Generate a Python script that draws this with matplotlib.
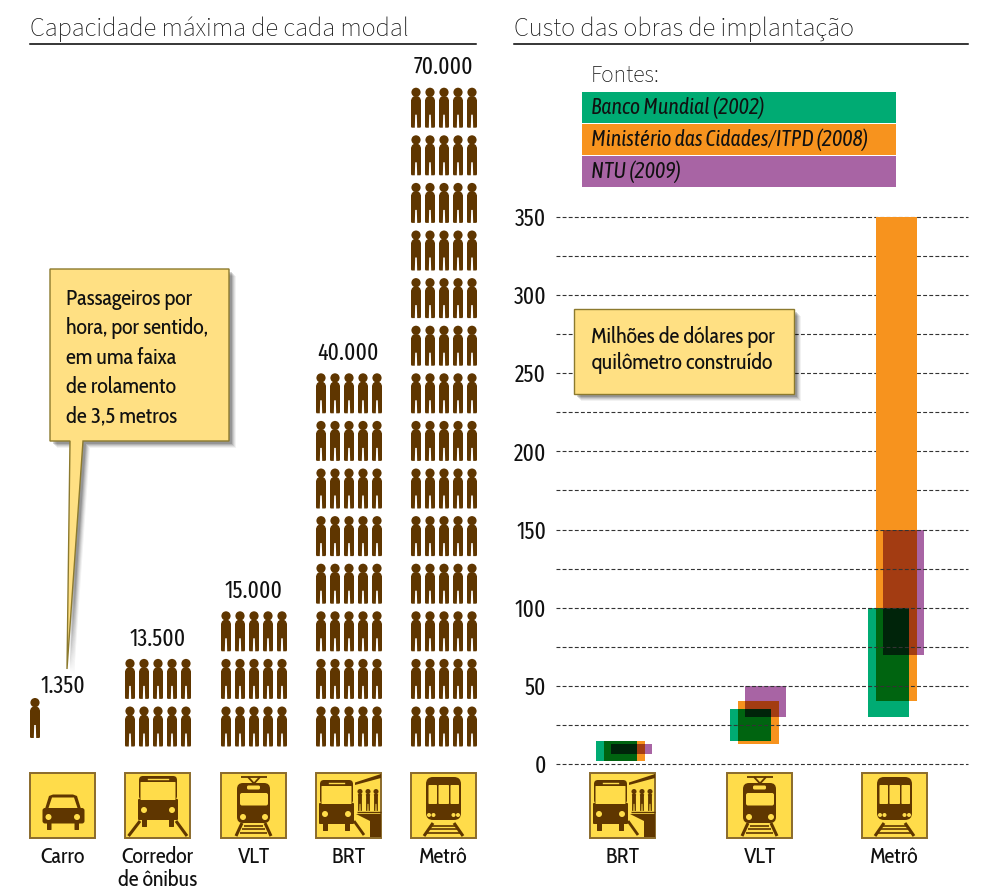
import matplotlib
matplotlib.use("Agg")
import matplotlib.pyplot as plt
from matplotlib.patches import Circle, FancyBboxPatch, Polygon, Rectangle

# capacidade
modal_names = ["Carro", "Corredor\nde ônibus", "VLT", "BRT", "Metrô"]
modal_values = ["1.350", "13.500", "15.000", "40.000", "70.000"]
modal_rows = [1, 2, 3, 8, 14]
modal_cols = [1, 5, 5, 5, 5]
modal_icons = ["car", "bus", "tram", "brt", "metro"]

# custo, milhoes de dolares por km (min, max)
cost_names = ["BRT", "VLT", "Metrô"]
cost_icons = ["brt", "tram", "metro"]
green_low = [2, 15, 30]
green_high = [15, 35, 100]
orange_low = [2, 13, 40]
orange_high = [15, 40, 350]
purple_low = [6.5, 30, 70]
purple_high = [13, 50, 150]
source_names = ["Banco Mundial (2002)", "Ministério das Cidades/ITPD (2008)", "NTU (2009)"]
y_ticks = [0, 50, 100, 150, 200, 250, 300, 350]
y_minor = [25, 75, 125, 175, 225, 275, 325]

GREEN = "#00AB73"
ORANGE = "#F7931E"
PURPLE = "#A864A4"
GREEN_ORANGE = "#006410"
ORANGE_PURPLE = "#A33C12"
ALL_THREE = "#00240A"
BROWN = "#5F3600"
YELLOW = "#FFDC4A"
NOTE = "#FFE083"
NARROW = ["Cabin Condensed", "Fira Sans Condensed", "Liberation Sans", "DejaVu Sans"]
NARROW_IT = ["Asap Condensed", "Fira Sans Condensed", "Liberation Sans", "DejaVu Sans"]
DIGITS = ["Fira Sans Extra Condensed", "Cabin Condensed", "Liberation Sans", "DejaVu Sans"]
LIGHT = ["Source Sans 3", "Source Sans Pro", "Open Sans", "DejaVu Sans"]

plt.rcParams["font.family"] = NARROW

fig = plt.figure(figsize=(9.82, 8.88), dpi=100)

# grafico de custo, eixo x em pixels da figura
ax = fig.add_axes([556 / 982, (888 - 764) / 888, 412 / 982, 547 / 888])
ax.set_xlim(556, 968)
ax.set_ylim(0, 350)
for s in ax.spines.values():
    s.set_visible(False)
ax.set_xticks([])
ax.set_yticks(y_ticks)
ax.set_yticks(y_minor, minor=True)
ax.tick_params(axis="y", which="both", length=0, pad=7, labelsize=17)
for lab in ax.get_yticklabels():
    lab.set_family(DIGITS)
    lab.set_color("#111111")
ax.grid(axis="y", which="both", color="#333333", lw=0.8, ls=(0, (3.5, 2)), clip_on=False)
ax.set_axisbelow(False)

group_x = [624.5, 758.5, 896.5]
bar_w = 41
green_dx = -8
purple_dx = 7


def overlap(x_list, low_list, high_list, color, z):
    left = max(x - bar_w / 2 for x in x_list)
    right = min(x + bar_w / 2 for x in x_list)
    low = max(low_list)
    high = min(high_list)
    if right > left and high > low:
        ax.bar((left + right) / 2, high - low, right - left, bottom=low, color=color, lw=0, zorder=z)


for i, x in enumerate(group_x):
    gx = x + green_dx
    px = x + purple_dx
    ax.bar(x, orange_high[i] - orange_low[i], bar_w, bottom=orange_low[i], color=ORANGE, lw=0, zorder=1)
    ax.bar(gx, green_high[i] - green_low[i], bar_w, bottom=green_low[i], color=GREEN, lw=0, zorder=1.2)
    ax.bar(px, purple_high[i] - purple_low[i], bar_w, bottom=purple_low[i], color=PURPLE, lw=0, zorder=1.2)
    overlap([x, gx], [orange_low[i], green_low[i]], [orange_high[i], green_high[i]], GREEN_ORANGE, 1.4)
    overlap([x, px], [orange_low[i], purple_low[i]], [orange_high[i], purple_high[i]], ORANGE_PURPLE, 1.4)
    overlap([x, gx, px], [orange_low[i], green_low[i], purple_low[i]],
            [orange_high[i], green_high[i], purple_high[i]], ALL_THREE, 1.6)
    # a parte so laranja fica por cima do tracejado
    top = max(green_high[i], purple_high[i])
    if orange_high[i] > top:
        ax.bar(x, orange_high[i] - top, bar_w, bottom=top, color=ORANGE, lw=0, zorder=3)

# camada de cima, em pixels
top_ax = fig.add_axes([0, 0, 1, 1], zorder=5)
top_ax.set_xlim(0, 982)
top_ax.set_ylim(888, 0)
top_ax.axis("off")
top_ax.patch.set_alpha(0)


def person(cx, bottom, h=40.0, w=5.0):
    k = h / 40.0
    r = 4.6 * k
    top_ax.add_patch(Circle((cx, bottom - h + r), r, fc=BROWN, lw=0))
    pts = [(-2, -31.5), (2, -31.5), (4, -30), (w, -27.5), (w, -1), (w - 0.6, 0), (1.2, 0), (0.8, -13),
           (-0.8, -13), (-1.2, 0), (-w + 0.6, 0), (-w, -1), (-w, -27.5), (-4, -30)]
    top_ax.add_patch(Polygon([(cx + a * k, bottom + b * k) for a, b in pts], fc=BROWN, lw=0))


def shape(ox, oy, pts, color=BROWN):
    top_ax.add_patch(Polygon([(ox + a, oy + b) for a, b in pts], fc=color, lw=0))


def block(ox, oy, x0, y0, x1, y1, color=BROWN, r=1.0):
    top_ax.add_patch(FancyBboxPatch((ox + x0 + r, oy + y0 + r), x1 - x0 - 2 * r, y1 - y0 - 2 * r,
                                    boxstyle=f"round,pad={r},rounding_size={r}", fc=color, lw=0))


def dot(ox, oy, x, y, r=3.0, color=YELLOW):
    top_ax.add_patch(Circle((ox + x, oy + y), r, fc=color, lw=0))


def stroke(ox, oy, xs, ys, lw=1.6):
    top_ax.plot([ox + a for a in xs], [oy + b for b in ys], color=BROWN, lw=lw, solid_capstyle="butt")


def rails(ox, oy, a0, a1, b0, b1):
    stroke(ox, oy, [a0, a1], [50, 63], 2.2)
    stroke(ox, oy, [b0, b1], [50, 63], 2.2)


def bus_front(ox, oy, x0, x1, top):
    block(ox, oy, x0 + 1, top, x1 - 1, top + 24, BROWN, 4)
    block(ox, oy, x0, top + 24 - 1, x1, top + 44, BROWN, 1)
    block(ox, oy, x0 + 2.5, top + 6, x1 - 2.5, top + 24, YELLOW, 0.5)
    top_ax.plot([ox + x0 + 10, ox + x1 - 10], [oy + top + 3] * 2, color=YELLOW, lw=1.0)
    dot(ox, oy, x0 + 6, top + 34)
    dot(ox, oy, x1 - 6, top + 34)
    block(ox, oy, x0 + 4, top + 43, x0 + 9, top + 51, BROWN, 0.5)
    block(ox, oy, x1 - 9, top + 43, x1 - 4, top + 51, BROWN, 0.5)


def draw_icon(kind, ox, oy):
    top_ax.add_patch(Rectangle((ox, oy), 65, 65, fc=YELLOW, ec="#8A6A2C", lw=1.4))
    if kind == "car":
        shape(ox, oy, [(19, 23), (23, 21.5), (43, 21.5), (47, 23), (51, 36), (15, 36)])
        shape(ox, oy, [(22, 24.5), (44, 24.5), (47.5, 35), (18.5, 35)], YELLOW)
        block(ox, oy, 12.5, 35, 54.5, 50.5, BROWN, 2.5)
        block(ox, oy, 17, 49, 21.5, 57, BROWN, 0.5)
        block(ox, oy, 44.5, 49, 49, 57, BROWN, 0.5)
        dot(ox, oy, 18.5, 44)
        dot(ox, oy, 47, 44)
    elif kind == "bus":
        bus_front(ox, oy, 13, 53, 3)
        stroke(ox, oy, [15, 3.5], [48, 63], 2.2)
        stroke(ox, oy, [51, 62], [48, 63], 2.2)
    elif kind == "tram":
        stroke(ox, oy, [20, 46], [3.5, 3.5], 1.3)
        stroke(ox, oy, [27, 33, 39], [4, 10.5, 4], 1.3)
        block(ox, oy, 16, 10, 49, 50, BROWN, 6)
        block(ox, oy, 26, 12.5, 39, 16.5, YELLOW, 1.5)
        block(ox, oy, 19, 20, 47, 32.5, YELLOW, 2)
        dot(ox, oy, 22, 44)
        dot(ox, oy, 44, 44)
        rails(ox, oy, 21, 15, 44, 50)
        for y, a, b in [(52.5, 23, 42), (56, 21, 44), (60, 19, 46)]:
            stroke(ox, oy, [a, b], [y, y], 1.2)
    elif kind == "brt":
        bus_front(ox, oy, 3, 38, 7)
        stroke(ox, oy, [38, 48], [48, 62], 2.0)
        shape(ox, oy, [(39, 9.5), (65, 1), (65, 5), (39, 12)])
        stroke(ox, oy, [41, 65], [38.5, 38.5], 1.0)
        shape(ox, oy, [(40, 41), (65, 41), (65, 64), (54, 64), (54, 48)])
        for x in [44, 52, 60]:
            person(ox + x, oy + 38, 22, 3.5)
    elif kind == "metro":
        block(ox, oy, 15, 4, 50, 47, BROWN, 7)
        for a, b in [(17.5, 26), (27.5, 38), (39.5, 48)]:
            block(ox, oy, a, 12, b, 31, YELLOW, 0.8)
        for x in [18, 22.5, 42.5, 47]:
            dot(ox, oy, x, 42, 2.0)
        rails(ox, oy, 22, 13, 43, 52)
        for y, a, b in [(52.5, 20, 45), (56, 18, 47), (60, 16, 49)]:
            stroke(ox, oy, [a, b], [y, y], 1.2)


def note(pts, edge="#8C7A2E"):
    for off, alpha in [(7, 0.05), (6, 0.07), (5, 0.09), (4, 0.12), (3, 0.16)]:
        top_ax.add_patch(Polygon([(a + off, b + off) for a, b in pts], fc="black", alpha=alpha, lw=0))
    top_ax.add_patch(Polygon(pts, fc=NOTE, ec=edge, lw=1.0, joinstyle="miter"))


# titulos
top_ax.text(30, 36, "Capacidade máxima de cada modal", fontsize=19, family=LIGHT,
            weight="light", color="#111111", ha="left", va="baseline")
top_ax.text(514, 36, "Custo das obras de implantação", fontsize=19, family=LIGHT,
            weight="light", color="#111111", ha="left", va="baseline")
top_ax.plot([30, 476], [44.5, 44.5], color="black", lw=1.1)
top_ax.plot([514, 968], [44.5, 44.5], color="black", lw=1.1)

# pessoas
modal_left = [30, 125, 221, 316, 411]
row_step = 47.6
col_step = 14
label_y = [686, 639, 591, 353, 67]
bottom_y = [738, 746.5, 746.5, 746.5, 746.5]
for i, name in enumerate(modal_names):
    for r in range(modal_rows[i]):
        for c in range(modal_cols[i]):
            person(modal_left[i] + 5 + c * col_step, bottom_y[i] - r * row_step)
    cx = modal_left[i] + 32.5
    top_ax.text(cx, label_y[i], modal_values[i], fontsize=17, family=DIGITS, ha="center", va="center",
                color="#111111")
    draw_icon(modal_icons[i], modal_left[i], 773)
    top_ax.text(cx, 845.5, name, fontsize=15.8, ha="center", va="top", color="#111111", linespacing=1.1)

cost_left = [590, 727, 862]
for i, name in enumerate(cost_names):
    draw_icon(cost_icons[i], cost_left[i], 773)
    top_ax.text(cost_left[i] + 32.5, 845.5, name, fontsize=15.8, ha="center", va="top", color="#111111")

# legenda das fontes
top_ax.text(591, 76, "Fontes:", fontsize=17, family=LIGHT, weight="light",
            color="#111111", ha="left", va="center")
source_colors = [GREEN, ORANGE, PURPLE]
source_top = [92, 124, 156]
for name, col, y in zip(source_names, source_colors, source_top):
    top_ax.add_patch(Rectangle((582, y), 314, 31, fc=col, lw=0))
    top_ax.text(591, y + 15.5, name, fontsize=15.7, style="italic", family=NARROW_IT, color="#111111",
                ha="left", va="center")

# caixas de nota
note([(50, 269), (229, 269), (229, 441), (83, 441), (67, 669), (70, 441), (50, 441)])
note_lines = ["Passageiros por", "hora, por sentido,", "em uma faixa", "de rolamento", "de 3,5 metros"]
for n, line in enumerate(note_lines):
    top_ax.text(66, 299 + n * 29.4, line, fontsize=15.9, color="#111111", ha="left", va="center")

note([(574, 309), (794, 309), (794, 394), (574, 394)])
top_ax.text(591, 337, "Milhões de dólares por", fontsize=15.8, color="#111111", ha="left", va="center")
top_ax.text(591, 363, "quilômetro construído", fontsize=15.8, color="#111111", ha="left", va="center")

fig.savefig("out.png", dpi=100)
